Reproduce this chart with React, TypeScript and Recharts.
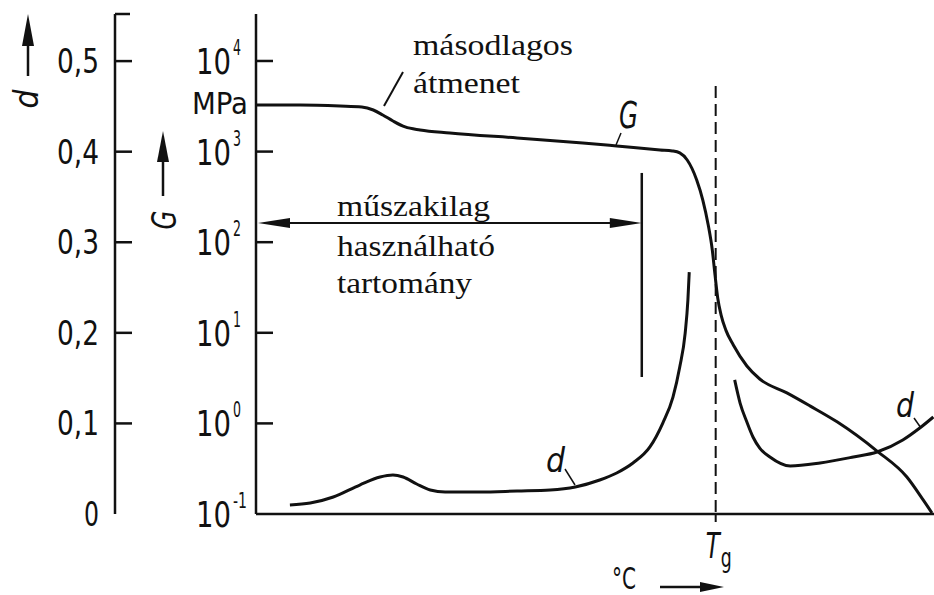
import React from "react";
import { ComposedChart, Line, XAxis, YAxis, ReferenceLine, Customized } from "recharts";

const INK = "#111";
const DIN = "'DejaVu Sans Condensed', 'DejaVu Sans', sans-serif";
const SERIF = "'Liberation Serif', 'DejaVu Serif', serif";
const NARROW = { fontFamily: DIN, fontStretch: "condensed", fill: INK, lengthAdjust: "spacingAndGlyphs" as const };

// temperature axis in arbitrary units (no numeric labels in the original)
const X_DOMAIN: [number, number] = [0, 100];
const TG = 67.8;

// G (MPa, log scale) and damping d share one vertical pixel scale
const G_MAX = 33000;
const G_TICKS = [0.1, 1, 10, 100, 1000, 10000];
const D_MAX = 0.552;
const D_TICKS = [0, 0.1, 0.2, 0.3, 0.4, 0.5, D_MAX];
const D_LABELS = ["0", "0,1", "0,2", "0,3", "0,4", "0,5", ""];

// shear modulus curve
const gCurve = [
  { x: 0, G: 3266 }, { x: 6.5, G: 3266 }, { x: 12.4, G: 3184 }, { x: 15.6, G: 3105 },
  { x: 17.3, G: 2877 }, { x: 18.7, G: 2535 }, { x: 20.2, G: 2177 }, { x: 22.0, G: 1870 },
  { x: 24.2, G: 1730 }, { x: 28.6, G: 1604 }, { x: 38.5, G: 1413 }, { x: 48.2, G: 1245 },
  { x: 53.2, G: 1153 }, { x: 59.6, G: 1042 }, { x: 61.4, G: 1016 }, { x: 62.5, G: 966 },
  { x: 63.6, G: 807 }, { x: 65.0, G: 486 }, { x: 65.9, G: 292 }, { x: 66.7, G: 155 },
  { x: 67.3, G: 82 }, { x: 67.7, G: 43.5 }, { x: 68.1, G: 24.2 }, { x: 68.6, G: 15.7 },
  { x: 69.3, G: 10.7 }, { x: 70.4, G: 7.33 }, { x: 72.4, G: 4.3 }, { x: 74.3, G: 3.09 },
  { x: 78.3, G: 2.17 }, { x: 81.7, G: 1.56 }, { x: 85.7, G: 1.04 }, { x: 91.6, G: 0.495 },
  { x: 96.0, G: 0.256 }, { x: 98.4, G: 0.143 }, { x: 99.7, G: 0.1026 },
];

// damping below Tg
const dLow = [
  { x: 5.0, d: 0.0099 }, { x: 8.0, d: 0.0121 }, { x: 11.4, d: 0.0188 }, { x: 15.3, d: 0.032 },
  { x: 18.3, d: 0.0408 }, { x: 20.2, d: 0.043 }, { x: 21.7, d: 0.0408 }, { x: 23.7, d: 0.0331 },
  { x: 25.7, d: 0.0265 }, { x: 27.9, d: 0.0243 }, { x: 33.0, d: 0.0243 }, { x: 38.5, d: 0.0254 },
  { x: 43.4, d: 0.0265 }, { x: 47.1, d: 0.0298 }, { x: 50.7, d: 0.0375 }, { x: 53.2, d: 0.0453 },
  { x: 55.6, d: 0.0563 }, { x: 58.1, d: 0.074 }, { x: 60.0, d: 0.1004 }, { x: 61.5, d: 0.1291 },
  { x: 62.5, d: 0.1623 }, { x: 63.3, d: 0.1998 }, { x: 63.7, d: 0.2362 }, { x: 63.9, d: 0.2671 },
];

// damping above Tg
const dHigh = [
  { x: 70.6, d: 0.148 }, { x: 71.4, d: 0.1225 }, { x: 72.4, d: 0.1015 }, { x: 73.3, d: 0.085 },
  { x: 74.3, d: 0.0728 }, { x: 75.8, d: 0.0629 }, { x: 78.8, d: 0.053 }, { x: 83.2, d: 0.0563 },
  { x: 88.1, d: 0.0629 }, { x: 91.6, d: 0.0684 }, { x: 95.4, d: 0.0817 }, { x: 97.9, d: 0.0949 },
  { x: 99.9, d: 0.1071 },
];

// usable range marker
const RANGE_END = 56.9;
const RANGE_ARROW_G = 163;
const RANGE_BAR_G: [number, number] = [581, 3.25];
const TG_TOP_G = 5300;

function GTick(props: any) {
  const { x, y, payload } = props;
  const exp = Math.round(Math.log10(payload.value));
  const expText = String(exp);
  return (
    <g>
      {exp > -1 && <line x1={x} x2={x + 17} y1={y} y2={y} stroke={INK} strokeWidth={2.5} />}
      <text x={x - 60} y={y + 13} fontSize={35} {...NARROW}>
        <tspan textLength={35} lengthAdjust="spacingAndGlyphs">10</tspan>
        <tspan dx={2} dy={-19} fontSize={22} textLength={expText.length > 1 ? 14 : 8} lengthAdjust="spacingAndGlyphs">
          {expText}
        </tspan>
      </text>
    </g>
  );
}

function DTick(props: any) {
  const { x, y, payload, index } = props;
  const label = D_LABELS[index];
  const v = payload.value;
  return (
    <g>
      {v > 0 && <line x1={x} x2={x + (label ? 17 : 15)} y1={y} y2={y} stroke={INK} strokeWidth={2.5} />}
      {label && (
        <text x={x - 16} y={y + 12} textAnchor="end" fontSize={34}
          textLength={label.length > 1 ? 42 : 15} {...NARROW}>
          {label}
        </text>
      )}
    </g>
  );
}

function TgTick(props: any) {
  const { x, y } = props;
  return (
    <text x={x - 10} y={y + 36} fontSize={36} {...NARROW}>
      <tspan fontStyle="italic" textLength={14} lengthAdjust="spacingAndGlyphs">T</tspan>
      <tspan dx={1} dy={9} fontSize={27} textLength={11} lengthAdjust="spacingAndGlyphs">g</tspan>
    </text>
  );
}

function RangeArrow(props: any) {
  const { x1, y1, x2 } = props;
  const y = y1;
  return (
    <g>
      <line x1={x1 + 10} x2={x2 - 10} y1={y} y2={y} stroke={INK} strokeWidth={2} />
      <polygon points={`${x1 + 2},${y} ${x1 + 34},${y - 5} ${x1 + 34},${y + 5}`} fill={INK} />
      <polygon points={`${x2},${y} ${x2 - 32},${y - 5} ${x2 - 32},${y + 5}`} fill={INK} />
    </g>
  );
}

function Annotations() {
  const serif = { fontFamily: SERIF, fontSize: 30, fill: INK, lengthAdjust: "spacingAndGlyphs" as const };
  return (
    <g>
      {/* axis titles */}
      <line x1={28} x2={28} y1={76} y2={38} stroke={INK} strokeWidth={2.5} />
      <polygon points="28,14 22,46 34,46" fill={INK} />
      <text x={26} y={99} transform="rotate(-90, 26, 99)" textAnchor="middle" dominantBaseline="central"
        fontSize={34} fontStyle="italic" textLength={19} {...NARROW}>d</text>
      <line x1={163} x2={163} y1={196} y2={155} stroke={INK} strokeWidth={2.5} />
      <polygon points="163,131 157,162 169,162" fill={INK} />
      <text x={164} y={220} transform="rotate(-90, 164, 220)" textAnchor="middle" dominantBaseline="central"
        fontSize={34} fontStyle="italic" textLength={19} {...NARROW}>G</text>
      <text x={192} y={114} fontSize={30} textLength={56} {...NARROW}>MPa</text>

      {/* secondary transition */}
      <text x={413} y={55} textLength={160} {...serif}>másodlagos</text>
      <text x={413} y={93} textLength={107} {...serif}>átmenet</text>
      <line x1={384} x2={403} y1={106} y2={72} stroke={INK} strokeWidth={2} />

      {/* usable range */}
      <text x={337} y={216} textLength={153} {...serif}>műszakilag</text>
      <text x={337} y={256} textLength={158} {...serif}>használható</text>
      <text x={337} y={293} textLength={135} {...serif}>tartomány</text>

      {/* curve labels */}
      <text x={619} y={128} fontSize={37} fontStyle="italic" textLength={19} {...NARROW}>G</text>
      <line x1={616} x2={621} y1={145} y2={133} stroke={INK} strokeWidth={1.5} />
      <text x={546} y={472} fontSize={33} fontStyle="italic" textLength={19} {...NARROW}>d</text>
      <line x1={565} x2={575} y1={469} y2={485} stroke={INK} strokeWidth={1.5} />
      <text x={896} y={417} fontSize={33} fontStyle="italic" textLength={18} {...NARROW}>d</text>
      <line x1={914} x2={921} y1={418} y2={428} stroke={INK} strokeWidth={1.5} />

      {/* temperature axis title */}
      <text x={612} y={589} fontSize={31} textLength={24} {...NARROW}>°C</text>
      <line x1={660} x2={704} y1={587} y2={587} stroke={INK} strokeWidth={2.5} />
      <polygon points="724,587 700,582 700,592" fill={INK} />
    </g>
  );
}

export default function App() {
  return (
    <div style={{ position: "absolute", left: 0, top: 0, width: 934, height: 595, background: "#fff" }}>
      <ComposedChart width={934} height={595} margin={{ top: 14, right: 0, bottom: 0, left: 0 }}>
        <XAxis
          xAxisId="bottom"
          type="number"
          dataKey="x"
          domain={X_DOMAIN}
          allowDataOverflow
          ticks={[TG]}
          height={81}
          tickSize={8}
          tickMargin={0}
          tickLine={{ stroke: INK, strokeWidth: 2 }}
          axisLine={{ stroke: INK, strokeWidth: 2.5 }}
          tick={<TgTick />}
        />
        <XAxis
          xAxisId="top"
          orientation="top"
          type="number"
          dataKey="x"
          domain={X_DOMAIN}
          allowDataOverflow
          height={0}
          tick={false}
          tickLine={false}
          axisLine={{ stroke: INK, strokeWidth: 2.5 }}
        />
        <YAxis
          yAxisId="G"
          type="number"
          scale="log"
          domain={[0.1, G_MAX]}
          allowDataOverflow
          ticks={G_TICKS}
          width={141}
          tickSize={0}
          tickMargin={0}
          tickLine={false}
          axisLine={{ stroke: INK, strokeWidth: 2.5 }}
          tick={<GTick />}
        />
        <YAxis
          yAxisId="d"
          type="number"
          domain={[0, D_MAX]}
          allowDataOverflow
          ticks={D_TICKS}
          width={115}
          tickSize={0}
          tickMargin={0}
          tickLine={false}
          axisLine={{ stroke: INK, strokeWidth: 2.5 }}
          tick={<DTick />}
        />

        <ReferenceLine
          xAxisId="bottom"
          yAxisId="G"
          segment={[{ x: TG, y: TG_TOP_G }, { x: TG, y: 0.1 }]}
          stroke={INK}
          strokeWidth={2}
          strokeDasharray="12 6"
        />
        <ReferenceLine
          xAxisId="bottom"
          yAxisId="G"
          segment={[{ x: RANGE_END, y: RANGE_BAR_G[0] }, { x: RANGE_END, y: RANGE_BAR_G[1] }]}
          stroke={INK}
          strokeWidth={2.5}
        />
        <ReferenceLine
          xAxisId="bottom"
          yAxisId="G"
          segment={[{ x: 0, y: RANGE_ARROW_G }, { x: RANGE_END, y: RANGE_ARROW_G }]}
          shape={(p: any) => <RangeArrow {...p} />}
        />

        <Line xAxisId="bottom" yAxisId="G" data={gCurve} dataKey="G" type="monotone" stroke={INK}
          strokeWidth={3} dot={false} activeDot={false} isAnimationActive={false} />
        <Line xAxisId="bottom" yAxisId="d" data={dLow} dataKey="d" type="monotone" stroke={INK}
          strokeWidth={3} dot={false} activeDot={false} isAnimationActive={false} />
        <Line xAxisId="bottom" yAxisId="d" data={dHigh} dataKey="d" type="monotone" stroke={INK}
          strokeWidth={3} dot={false} activeDot={false} isAnimationActive={false} />

        <Customized component={<Annotations />} />
      </ComposedChart>
    </div>
  );
}
